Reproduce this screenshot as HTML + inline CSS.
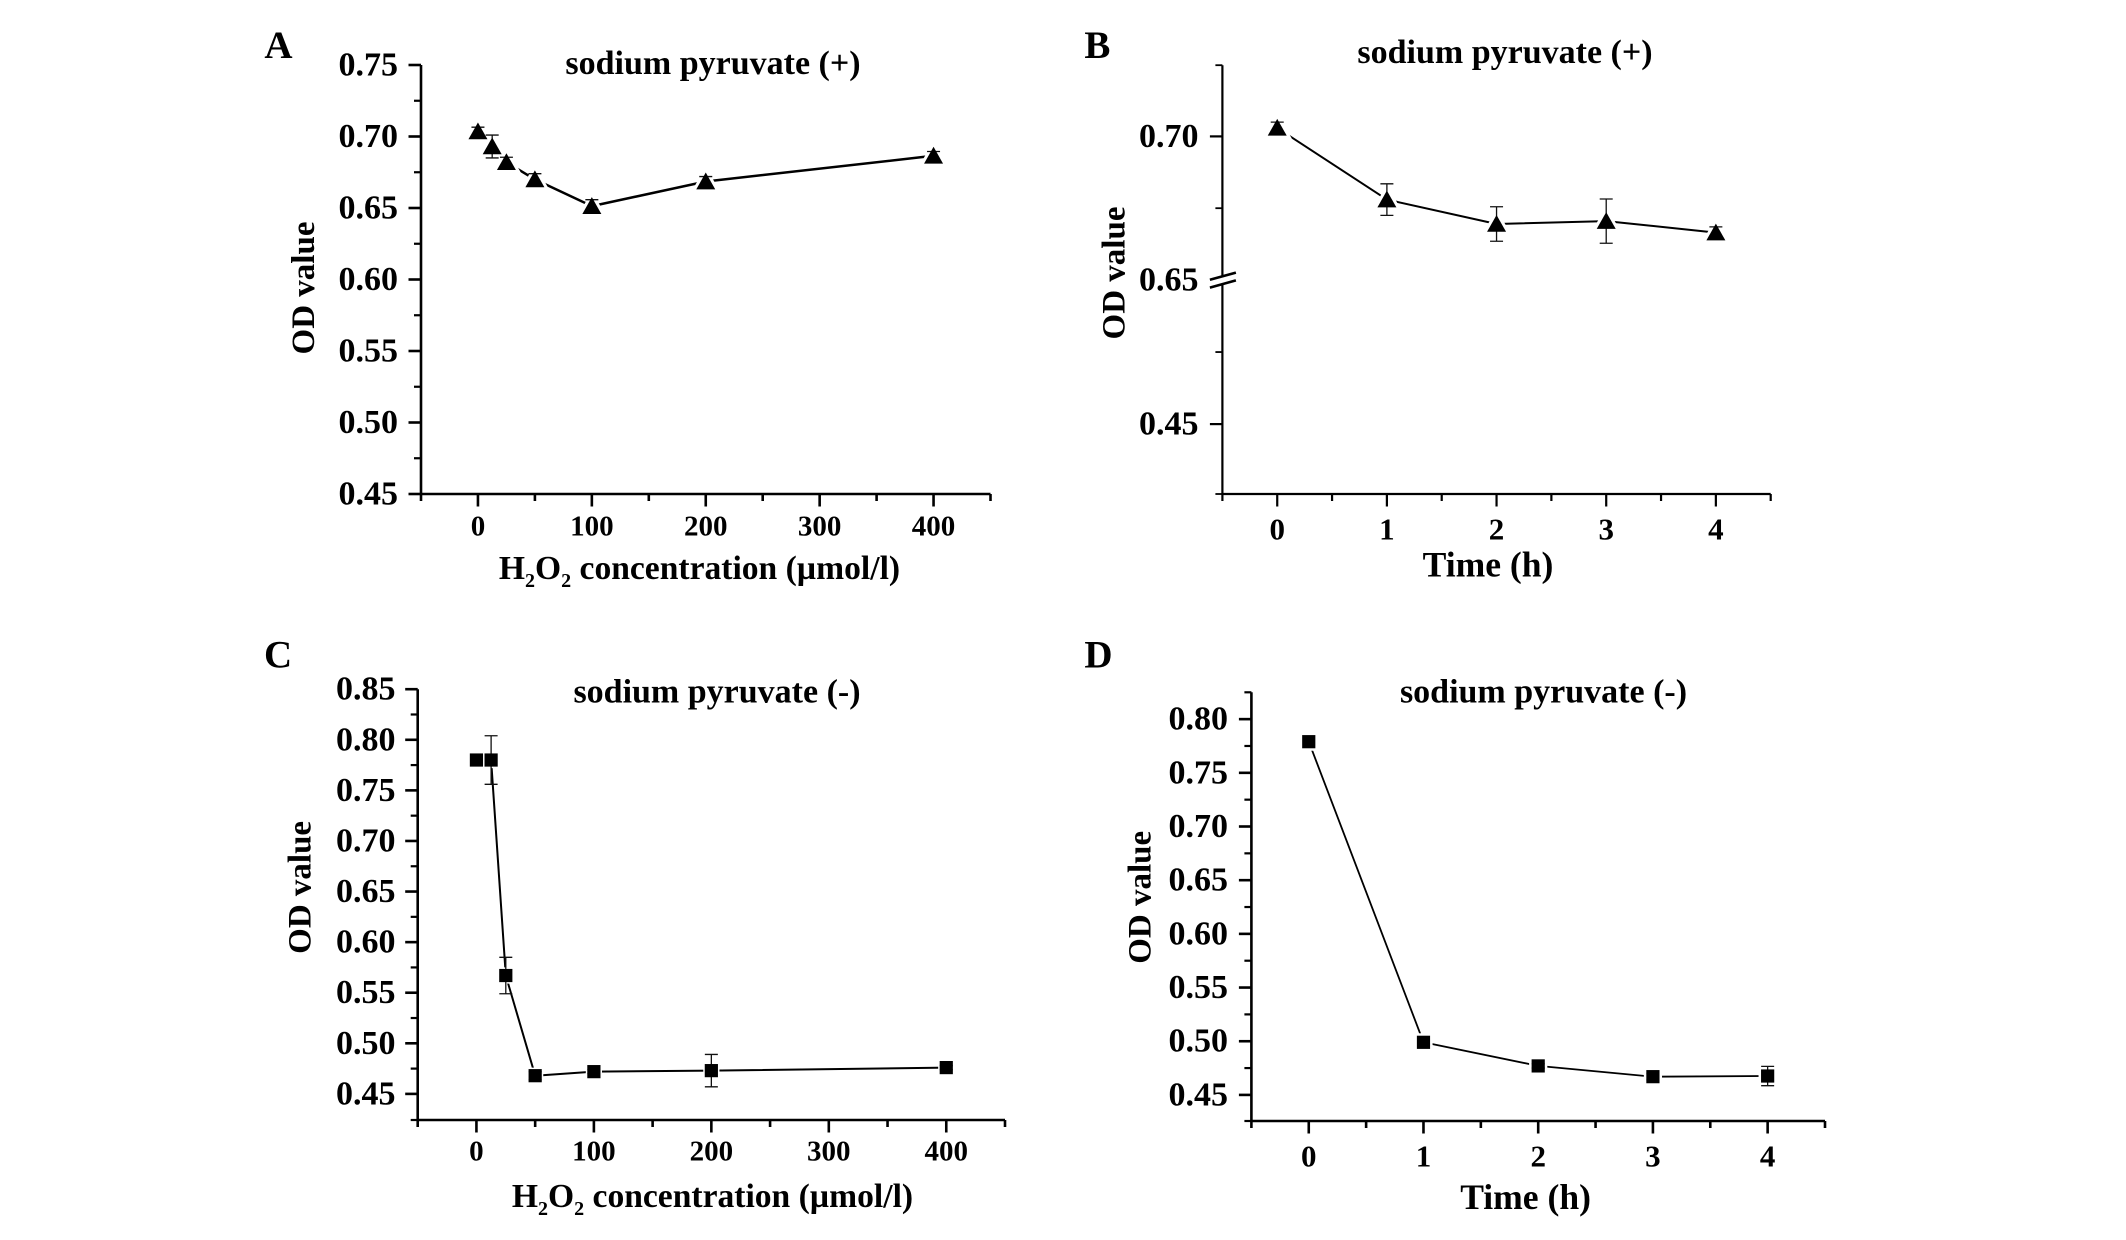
<!DOCTYPE html>
<html lang="en">
<head>
<meta charset="utf-8">
<title>OD value vs H2O2 concentration and time</title>
<style>
html,body{margin:0;padding:0;background:#fff;width:2126px;height:1240px;overflow:hidden}
svg{display:block}
text{font-family:"Liberation Serif",serif;font-weight:bold;fill:#000}
</style>
</head>
<body>
<svg id="figure" xmlns="http://www.w3.org/2000/svg" width="2126" height="1240" viewBox="0 0 2126 1240">
  <rect x="0" y="0" width="2126" height="1240" fill="#fff"/>

  <g id="panel-a">
    <text x="264.4" y="58" font-size="39">A</text>
    <text x="713" y="74" font-size="34" text-anchor="middle">sodium pyruvate (+)</text>
    <text transform="translate(313.8 288) rotate(-90)" font-size="33" text-anchor="middle">OD value</text>
    <text x="699.5" y="579" font-size="33.6" text-anchor="middle">H<tspan font-size="20" dy="8">2</tspan><tspan dy="-8">O</tspan><tspan font-size="20" dy="8">2</tspan><tspan dy="-8"> concentration (µmol/l)</tspan></text>
  </g>

  <g id="panel-b">
    <text x="1084.4" y="58" font-size="39">B</text>
    <text x="1505" y="63" font-size="34" text-anchor="middle">sodium pyruvate (+)</text>
    <text transform="translate(1124.7 273) rotate(-90)" font-size="33" text-anchor="middle">OD value</text>
    <text x="1488" y="576.3" font-size="35.6" text-anchor="middle">Time (h)</text>
  </g>

  <g id="panel-c">
    <text x="264" y="667.4" font-size="39">C</text>
    <text x="717" y="702.5" font-size="34" text-anchor="middle">sodium pyruvate (-)</text>
    <text transform="translate(310.3 887.4) rotate(-90)" font-size="33" text-anchor="middle">OD value</text>
    <text x="712.5" y="1207" font-size="33.6" text-anchor="middle">H<tspan font-size="20" dy="8">2</tspan><tspan dy="-8">O</tspan><tspan font-size="20" dy="8">2</tspan><tspan dy="-8"> concentration (µmol/l)</tspan></text>
  </g>

  <g id="panel-d">
    <text x="1084.4" y="667.4" font-size="39">D</text>
    <text x="1543.5" y="702.5" font-size="34" text-anchor="middle">sodium pyruvate (-)</text>
    <text transform="translate(1150.6 897.3) rotate(-90)" font-size="33" text-anchor="middle">OD value</text>
    <text x="1525.6" y="1209" font-size="35.6" text-anchor="middle">Time (h)</text>
  </g>
</svg>
<script>
// ---------- Data ----------
const concentrations = [0, 12.5, 25, 50, 100, 200, 400];
const hours = [0, 1, 2, 3, 4];

const panelAValues = [0.7035, 0.693, 0.682, 0.670, 0.6513, 0.6685, 0.6865];
const panelAErrors = [0.003, 0.008, 0.0035, 0.004, 0.0045, 0.0035, 0.003];

const panelBValues = [0.703, 0.678, 0.6695, 0.6705, 0.6665];
const panelBErrors = [0.002, 0.0055, 0.006, 0.0077, 0.002];

const panelCValues = [0.78, 0.78, 0.567, 0.468, 0.472, 0.473, 0.476];
const panelCErrors = [0, 0.024, 0.018, 0.004, 0.002, 0.016, 0.002];

const panelDValues = [0.779, 0.499, 0.477, 0.467, 0.4676];
const panelDErrors = [0, 0, 0.002, 0.003, 0.009];

// ---------- Ticks ----------
const doseMajorTicks = [0, 100, 200, 300, 400];
const doseMinorTicks = [-50, 50, 150, 250, 350, 450];
const doseTickLabels = ['0', '100', '200', '300', '400'];

const hourMajorTicks = [0, 1, 2, 3, 4];
const hourMinorTicks = [-0.5, 0.5, 1.5, 2.5, 3.5, 4.5];
const hourTickLabels = ['0', '1', '2', '3', '4'];

const panelAYMajor = [0.45, 0.50, 0.55, 0.60, 0.65, 0.70, 0.75];
const panelAYMinor = [0.475, 0.525, 0.575, 0.625, 0.675, 0.725];
const panelAYLabels = ['0.45', '0.50', '0.55', '0.60', '0.65', '0.70', '0.75'];

const panelBYMajor = [0.45, 0.70];
const panelBYMinor = [0.352, 0.55, 0.675, 0.725];
const panelBYLabelValues = [0.45, 0.65, 0.70];
const panelBYLabels = ['0.45', '0.65', '0.70'];

const panelCYMajor = [0.45, 0.50, 0.55, 0.60, 0.65, 0.70, 0.75, 0.80, 0.85];
const panelCYMinor = [0.4242, 0.475, 0.525, 0.575, 0.625, 0.675, 0.725, 0.775, 0.825];
const panelCYLabels = ['0.45', '0.50', '0.55', '0.60', '0.65', '0.70', '0.75', '0.80', '0.85'];

const panelDYMajor = [0.45, 0.50, 0.55, 0.60, 0.65, 0.70, 0.75, 0.80];
const panelDYMinor = [0.4257, 0.475, 0.525, 0.575, 0.625, 0.675, 0.725, 0.775, 0.825];
const panelDYLabels = ['0.45', '0.50', '0.55', '0.60', '0.65', '0.70', '0.75', '0.80'];

// ---------- Helpers ----------
const NS = 'http://www.w3.org/2000/svg';

function make(parent, tag, attrs) {
  const node = document.createElementNS(NS, tag);
  Object.keys(attrs).forEach(function (k) { node.setAttribute(k, attrs[k]); });
  parent.appendChild(node);
  return node;
}

// Piecewise-linear scale (a single segment for ordinary axes, several for a broken axis).
function scale(domain, range) {
  return function (v) {
    let i = 0;
    while (i < domain.length - 2 && v > domain[i + 1]) i++;
    const t = (v - domain[i]) / (domain[i + 1] - domain[i]);
    return range[i] + t * (range[i + 1] - range[i]);
  };
}

function drawPanel(cfg) {
  const g = document.getElementById(cfg.id);
  const x = scale(cfg.xDomain, cfg.xRange);
  const y = scale(cfg.yDomain, cfg.yRange);
  const left = cfg.xRange[0];
  const right = cfg.xRange[cfg.xRange.length - 1];
  const bottom = cfg.yRange[0];
  const top = cfg.yRange[cfg.yRange.length - 1];
  const axisW = cfg.axisWidth;
  const MAJOR = 12.5;
  const MINOR = 7;

  // Axes
  const yAxis = make(g, 'line', { x1: left, x2: left, y1: top, y2: bottom, stroke: '#000', 'stroke-width': axisW });
  
  

  const xAxis = make(g, 'line', { x1: left, x2: right, y1: bottom, y2: bottom, stroke: '#000', 'stroke-width': axisW });
  
  

  // Y ticks
  cfg.yMajor.forEach(function (v) {
    const t = make(g, 'line', { x1: left - MAJOR, x2: left, y1: y(v), y2: y(v), stroke: '#000', 'stroke-width': axisW });
    
    
  });
  cfg.yMinor.forEach(function (v) {
    const t = make(g, 'line', { x1: left - MINOR, x2: left, y1: y(v), y2: y(v), stroke: '#000', 'stroke-width': axisW - 0.4 });
    
    
  });
  cfg.yLabelValues.forEach(function (v, i) {
    const t = make(g, 'text', { x: cfg.yLabelRight, y: y(v) + 10.5, 'font-size': 34, 'text-anchor': 'end' });
    
    
    t.textContent = cfg.yLabels[i];
  });

  // X ticks
  cfg.xMajor.forEach(function (v) {
    const t = make(g, 'line', { x1: x(v), x2: x(v), y1: bottom, y2: bottom + MAJOR, stroke: '#000', 'stroke-width': axisW });
    
    
  });
  cfg.xMinor.forEach(function (v) {
    const t = make(g, 'line', { x1: x(v), x2: x(v), y1: bottom, y2: bottom + MINOR, stroke: '#000', 'stroke-width': axisW });
    
    
  });
  cfg.xMajor.forEach(function (v, i) {
    const t = make(g, 'text', { x: x(v), y: cfg.xLabelBaseline, 'font-size': cfg.xLabelSize, 'text-anchor': 'middle' });
    
    
    t.textContent = cfg.xLabels[i];
  });

  // Axis break
  if (cfg.breakAt !== undefined) {
    const by = y(cfg.breakAt);
    const gap = make(g, 'polygon', {
      points: [[left - 3, by - 3], [left + 3, by - 5], [left + 3, by + 3], [left - 3, by + 5]].join(' '),
      fill: '#fff'
    });
    
    
    [-3.8, 4].forEach(function (offset) {
      const b = make(g, 'line', {
        x1: left - 12.5, y1: by + offset + 3.6,
        x2: left + 13.5, y2: by + offset - 3.6,
        stroke: '#000', 'stroke-width': 2.6
      });
      
      
    });
  }

  // Series line
  const pts = cfg.xValues.map(function (v, i) { return x(v).toFixed(1) + ',' + y(cfg.values[i]).toFixed(1); });
  const startIndex = cfg.lineStart || 0;
  const line = make(g, 'polyline', { points: pts.slice(startIndex).join(' '), fill: 'none', stroke: '#000', 'stroke-width': cfg.lineWidth, 'stroke-linejoin': 'round' });
  
  

  // Halo that creates the small gap between line and marker
  cfg.xValues.forEach(function (v, i) {
    const px = x(v);
    const py = y(cfg.values[i]);
    const halo = make(g, 'path', { d: markerPath(cfg.marker, px, py), fill: '#fff', stroke: '#fff', 'stroke-width': cfg.halo });
    
    
  });

  // Error bars
  cfg.xValues.forEach(function (v, i) {
    const e = cfg.errors[i];
    if (!e) return;
    const px = x(v);
    const hi = y(cfg.values[i] + e);
    const lo = y(cfg.values[i] - e);
    const d = 'M' + (px - 6.5) + ' ' + hi + 'H' + (px + 6.5) + 'M' + px + ' ' + hi + 'V' + lo + 'M' + (px - 6.5) + ' ' + lo + 'H' + (px + 6.5);
    const bar = make(g, 'path', { d: d, fill: 'none', stroke: '#111', 'stroke-width': 1.3 });
    
    
  });

  // Markers
  cfg.xValues.forEach(function (v, i) {
    const px = x(v);
    const py = y(cfg.values[i]);
    const m = make(g, 'path', { d: markerPath(cfg.marker, px, py), fill: '#000' });
    
    
  });
}

function markerPath(kind, px, py) {
  if (kind === 'triangle') {
    return 'M' + px + ' ' + (py - 9) + 'L' + (px + 9.5) + ' ' + (py + 7.8) + 'L' + (px - 9.5) + ' ' + (py + 7.8) + 'Z';
  }
  return 'M' + (px - 6.6) + ' ' + (py - 6.6) + 'H' + (px + 6.6) + 'V' + (py + 6.6) + 'H' + (px - 6.6) + 'Z';
}

// ---------- Panels ----------
drawPanel({
  id: 'panel-a', marker: 'triangle', lineWidth: 2.5, axisWidth: 2.6, halo: 6,
  xValues: concentrations, values: panelAValues, errors: panelAErrors,
  xDomain: [-50, 450], xRange: [421, 990.5],
  yDomain: [0.45, 0.75], yRange: [494, 65],
  xMajor: doseMajorTicks, xMinor: doseMinorTicks, xLabels: doseTickLabels,
  yMajor: panelAYMajor, yMinor: panelAYMinor, yLabelValues: panelAYMajor, yLabels: panelAYLabels,
  yLabelRight: 398, xLabelBaseline: 535.7, xLabelSize: 29
});

drawPanel({
  id: 'panel-b', marker: 'triangle', lineWidth: 2, axisWidth: 2.2, halo: 6,
  xValues: hours, values: panelBValues, errors: panelBErrors,
  xDomain: [-0.5, 4.5], xRange: [1222.4, 1770.7],
  yDomain: [0.352, 0.45, 0.65, 0.70, 0.725], yRange: [494, 424.1, 280, 136.4, 65.2],
  xMajor: hourMajorTicks, xMinor: hourMinorTicks, xLabels: hourTickLabels,
  yMajor: panelBYMajor, yMinor: panelBYMinor, yLabelValues: panelBYLabelValues, yLabels: panelBYLabels,
  yLabelRight: 1198.5, xLabelBaseline: 539.3, xLabelSize: 31, breakAt: 0.65
});

drawPanel({
  id: 'panel-c', marker: 'square', lineWidth: 2, axisWidth: 2.6, halo: 3,
  xValues: concentrations, values: panelCValues, errors: panelCErrors, lineStart: 1,
  xDomain: [-50, 450], xRange: [417.7, 1005],
  yDomain: [0.4242, 0.85], yRange: [1120, 689.2],
  xMajor: doseMajorTicks, xMinor: doseMinorTicks, xLabels: doseTickLabels,
  yMajor: panelCYMajor, yMinor: panelCYMinor, yLabelValues: panelCYMajor, yLabels: panelCYLabels,
  yLabelRight: 395.5, xLabelBaseline: 1160.5, xLabelSize: 29
});

drawPanel({
  id: 'panel-d', marker: 'square', lineWidth: 1.8, axisWidth: 2.6, halo: 5,
  xValues: hours, values: panelDValues, errors: panelDErrors,
  xDomain: [-0.5, 4.5], xRange: [1251.4, 1825],
  yDomain: [0.4257, 0.825], yRange: [1121, 692.3],
  xMajor: hourMajorTicks, xMinor: hourMinorTicks, xLabels: hourTickLabels,
  yMajor: panelDYMajor, yMinor: panelDYMinor, yLabelValues: panelDYMajor, yLabels: panelDYLabels,
  yLabelRight: 1228, xLabelBaseline: 1166.4, xLabelSize: 31
});
</script>
</body>
</html>
